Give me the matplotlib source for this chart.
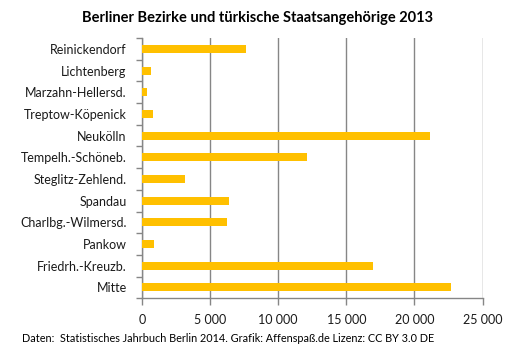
import matplotlib
matplotlib.use("Agg")
import matplotlib.pyplot as plt
from matplotlib.ticker import FuncFormatter

categories = ["Reinickendorf", "Lichtenberg", "Marzahn-Hellersd.", "Treptow-Köpenick",
              "Neukölln", "Tempelh.-Schöneb.", "Steglitz-Zehlend.", "Spandau",
              "Charlbg.-Wilmersd.", "Pankow", "Friedrh.-Kreuzb.", "Mitte"]
values = [7670, 660, 370, 810, 21130, 12080, 3160, 6420, 6270, 900, 16930, 22670]
xticks = [0, 5000, 10000, 15000, 20000, 25000]

plt.rcParams['font.family'] = ['Lato', 'DejaVu Sans']

fig = plt.figure(figsize=(5.17, 3.51), dpi=100)
ax = fig.add_axes([142/517, 1-298.3/351, 340.5/517, 260.3/351])

n = len(categories)
ypos = [n - 1 - i for i in range(n)]
ax.barh(ypos, values, height=0.37, color="#FFC000", zorder=3)
ax.set_ylim(-0.5, n - 0.5)
ax.set_xlim(0, 25000)
ax.set_yticks(ypos)
ax.set_yticklabels(categories, fontsize=9, color="#1a1a1a")
ax.set_yticks([i - 0.5 for i in range(n + 1)], minor=True)
ax.tick_params(axis='y', which='major', length=0, pad=11)
ax.tick_params(axis='y', which='minor', length=4, color="#868686", width=1)
ax.set_xticks(xticks)
ax.xaxis.set_major_formatter(FuncFormatter(lambda v, p: f"{int(v):,}".replace(",", " ")))
ax.tick_params(axis='x', length=5, color="#868686", width=1, pad=6, labelsize=9, labelcolor="#1a1a1a")
ax.grid(axis='x', color="#868686", linewidth=1, zorder=0)
for s in ["top", "right"]:
    ax.spines[s].set_visible(False)
for s in ["left", "bottom"]:
    ax.spines[s].set_color("#868686")
    ax.spines[s].set_linewidth(1)

fig.text(258/517, 1-18/351, "Berliner Bezirke und türkische Staatsangehörige 2013",
         ha="center", va="center", fontsize=10.5, fontweight="bold", color="#000000")
fig.text(22/517, 1-338/351, "Daten:  Statistisches Jahrbuch Berlin 2014. Grafik: Affenspaß.de Lizenz: CC BY 3.0 DE",
         ha="left", va="center", fontsize=7.8, color="#000000")

fig.savefig("out.png", dpi=100)
